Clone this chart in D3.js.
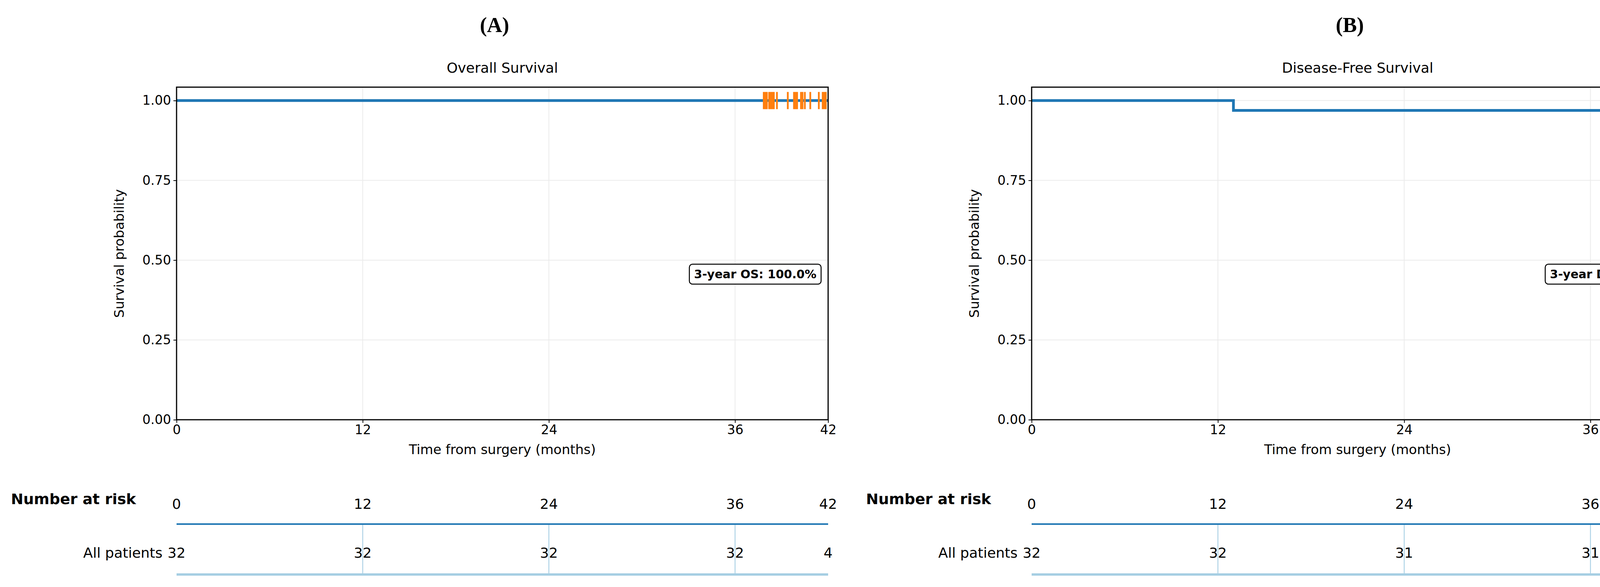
<!DOCTYPE html>
<html><head><meta charset="utf-8">
<script src="https://cdn.jsdelivr.net/npm/d3@7"></script>
<style>body{margin:0;background:#fff}</style></head>
<body><svg id="c" width="4351" height="1502"></svg>
<script>
const xTicks = [0, 12, 24, 36, 42];
const yTicks = [0, 0.25, 0.5, 0.75, 1.0];
const panelLetters = ["(A)", "(B)"];
const titles = ["Overall Survival", "Disease-Free Survival"];
const annotations = ["3-year OS: 100.0%", "3-year DFS: 96.9%"];
const stepsA = [[0, 1.0], [42, 1.0]];
const stepsB = [[0, 1.0], [13, 1.0], [13, 0.969], [42, 0.969]];
const censorA = [37.85,37.95,38.05,38.2,38.3,38.4,38.5,38.7,39.4,39.8,39.9,40.0,40.25,40.35,40.5,40.85,41.4,41.65,41.75,41.85];
const censorB = [37.85,37.95,38.05,38.2,38.3,38.4,38.5,38.7,39.4,39.8,39.9,40.0,40.25,40.35,40.5,40.85,41.4,41.65,41.75,41.85];
const riskA = [32, 32, 32, 32, 4];
const riskB = [32, 32, 31, 31, 4];

(function(){
const svg = d3.select("#c");
const font = "DejaVu Sans, sans-serif";
const panels = [
  {left: 452, right: 2120, steps: stepsA, censor: censorA, risk: riskA},
  {left: 2641, right: 4310, steps: stepsB, censor: censorB, risk: riskB}
];
const pTop = 223, pBot = 1074;

panels.forEach((p, i) => {
  const g = svg.append("g");
  const x = d3.scaleLinear().domain([0, 42]).range([p.left, p.right]);
  const y = d3.scaleLinear().domain([0, 1.042]).range([pBot, pTop]);
  const cx = (p.left + p.right) / 2;
  g.append("text").attr("x", cx - 20).attr("y", 82).attr("text-anchor", "middle")
    .attr("font-family", "Liberation Serif, serif").attr("font-weight", "bold").attr("font-size", 54).text(panelLetters[i]);
  g.append("text").attr("x", cx).attr("y", 186).attr("text-anchor", "middle")
    .attr("font-family", font).attr("font-size", 36).text(titles[i]);
  g.selectAll(".gx").data(xTicks.slice(1, 4)).join("line")
    .attr("x1", d => x(d)).attr("x2", d => x(d)).attr("y1", pTop).attr("y2", pBot)
    .attr("stroke", "#ebebeb").attr("stroke-width", 2);
  g.selectAll(".gy").data(yTicks.slice(1)).join("line")
    .attr("x1", p.left).attr("x2", p.right).attr("y1", d => y(d)).attr("y2", d => y(d))
    .attr("stroke", "#ebebeb").attr("stroke-width", 2);
  const ax = g.append("g").attr("transform", `translate(0,${pBot})`)
    .call(d3.axisBottom(x).tickValues(xTicks).tickSize(8).tickSizeOuter(0).tickPadding(6));
  const ay = g.append("g").attr("transform", `translate(${p.left},0)`)
    .call(d3.axisLeft(y).tickValues(yTicks).tickFormat(d3.format(".2f")).tickSize(8).tickSizeOuter(0).tickPadding(6));
  [ax, ay].forEach(a => {
    a.selectAll("text").attr("font-family", font).attr("font-size", 33).attr("fill", "#000");
    a.selectAll("line").attr("stroke", "#000").attr("stroke-width", 2);
    a.select(".domain").remove();
  });
  g.append("text").attr("x", cx).attr("y", 1162).attr("text-anchor", "middle")
    .attr("font-family", font).attr("font-size", 34).text("Time from surgery (months)");
  g.append("text").attr("transform", `translate(${p.left - 135},${(pTop + pBot) / 2}) rotate(-90)`)
    .attr("text-anchor", "middle").attr("font-family", font).attr("font-size", 34).text("Survival probability");
  g.append("path").datum(p.steps)
    .attr("d", d3.line().x(d => x(d[0])).y(d => y(d[1])))
    .attr("fill", "none").attr("stroke", "#1f77b4").attr("stroke-width", 7);
  const last = p.steps[p.steps.length - 1][1];
  g.selectAll(".cs").data(p.censor).join("line")
    .attr("x1", d => x(d)).attr("x2", d => x(d)).attr("y1", y(last) - 22).attr("y2", y(last) + 22)
    .attr("stroke", "#ff7f0e").attr("stroke-width", 4.5);
  g.append("rect").attr("x", p.left).attr("y", pTop).attr("width", p.right - p.left).attr("height", pBot - pTop)
    .attr("fill", "none").attr("stroke", "#000").attr("stroke-width", 3);
  const box = g.append("rect");
  const at = g.append("text").attr("x", p.right - 30).attr("y", 712).attr("text-anchor", "end")
    .attr("font-family", font).attr("font-weight", "bold").attr("font-size", 30).text(annotations[i]);
  const bb = at.node().getBBox();
  box.attr("x", bb.x - 12).attr("y", bb.y - 8).attr("width", bb.width + 24).attr("height", bb.height + 16)
    .attr("rx", 8).attr("fill", "#fff").attr("stroke", "#000").attr("stroke-width", 2.5);
  const rTop = 1341, rBot = 1470;
  g.append("text").attr("x", p.left - 424).attr("y", 1290).attr("font-family", font).attr("font-weight", "bold")
    .attr("font-size", 38).text("Number at risk");
  g.selectAll(".rh").data(xTicks).join("text")
    .attr("x", d => x(d)).attr("y", 1302).attr("text-anchor", "middle")
    .attr("font-family", font).attr("font-size", 36).text(d => d);
  g.selectAll(".rv").data(xTicks.slice(1, 4)).join("line")
    .attr("x1", d => x(d)).attr("x2", d => x(d)).attr("y1", rTop).attr("y2", rBot)
    .attr("stroke", "#9ecae1").attr("stroke-width", 2);
  g.append("line").attr("x1", p.left).attr("x2", p.right).attr("y1", rTop).attr("y2", rTop)
    .attr("stroke", "#1f77b4").attr("stroke-width", 4);
  g.append("line").attr("x1", p.left).attr("x2", p.right).attr("y1", rBot).attr("y2", rBot)
    .attr("stroke", "#a6cee3").attr("stroke-width", 6);
  g.append("text").attr("x", p.left - 36).attr("y", 1427).attr("text-anchor", "end")
    .attr("font-family", font).attr("font-size", 36).text("All patients");
  g.selectAll(".rn").data(p.risk).join("text")
    .attr("x", (d, j) => x(xTicks[j])).attr("y", 1427).attr("text-anchor", "middle")
    .attr("font-family", font).attr("font-size", 36).text(d => d);
});
})();
</script></body></html>
